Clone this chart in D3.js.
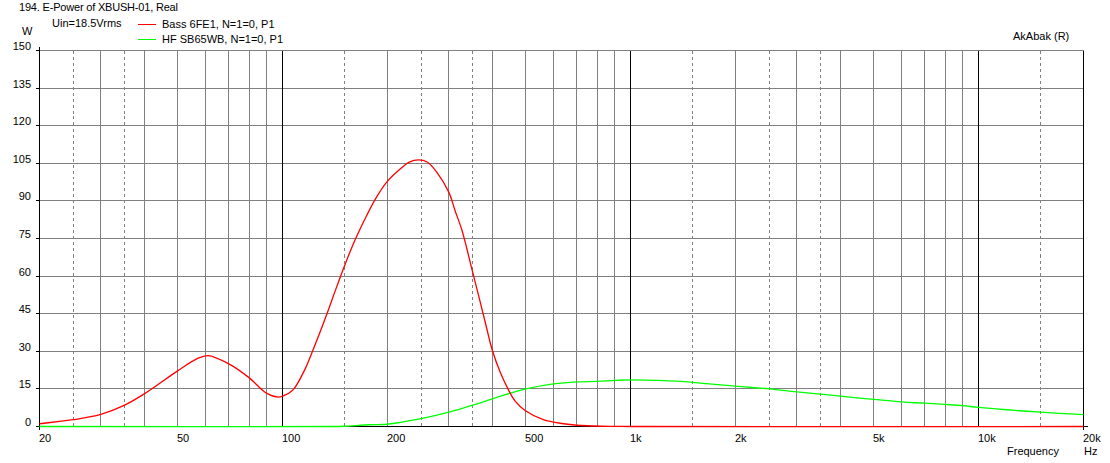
<!DOCTYPE html>
<html>
<head>
<meta charset="utf-8">
<script src="https://cdn.jsdelivr.net/npm/d3@7"></script>
<style>
  html, body { margin: 0; padding: 0; background: #fff; }
  svg { display: block; }
  text { font-family: "Liberation Sans", Arial, sans-serif; font-size: 11px; fill: #000; }
</style>
</head>
<body>
<script>
// ---- Data ----
const bassFreq = [20, 25, 30, 35, 40, 50, 56.6, 61, 70, 80, 90, 97, 100, 107, 116, 122, 134, 141, 149, 156, 163, 174, 186, 199, 215, 231, 246, 260, 277, 300, 313, 327, 338, 350, 365, 382, 400, 422, 446, 466, 497, 561, 641, 700, 826, 1000, 20000];
const bassW    = [1.1, 2.7, 4.8, 8.4, 13, 22.3, 27, 28.3, 25, 19.5, 13.2, 11.7, 12.1, 14.6, 23, 30.3, 45, 53.5, 62.5, 69.6, 75.8, 84, 91.5, 97.5, 102.1, 105.5, 106.4, 105.5, 101.5, 93.5, 86, 78.5, 71, 62.5, 52.5, 41.5, 30.5, 21.5, 14.4, 10, 6.4, 2.7, 1.1, 0.5, 0.1, 0, 0];

const hfFreq = [20, 140, 150, 178, 200, 214, 250, 300, 350, 400, 451, 500, 600, 700, 800, 900, 1000, 1400, 1500, 2000, 2500, 3000, 3500, 4000, 5000, 6000, 7000, 8000, 9000, 10000, 15000, 20000];
const hfW    = [0, 0, 0.1, 0.7, 0.9, 1.5, 3.1, 5.7, 8.4, 11, 13.3, 15, 17, 17.8, 18, 18.4, 18.6, 18.0, 17.6, 16.1, 15.0, 13.8, 12.9, 12.1, 10.8, 9.8, 9.3, 8.8, 8.3, 7.6, 5.7, 4.7];

const yTicks = [0, 15, 30, 45, 60, 75, 90, 105, 120, 135, 150];
const xTickValues = [20, 50, 100, 200, 500, 1000, 2000, 5000, 10000, 20000];
const xTickLabels = ["20", "50", "100", "200", "500", "1k", "2k", "5k", "10k", "20k"];
const gridSolid  = [30, 40, 50, 60, 70, 80, 90, 200, 300, 400, 500, 600, 700, 800, 900, 2000, 3000, 4000, 5000, 6000, 7000, 8000, 9000];
const gridDashed = [25, 35, 150, 250, 350, 1500, 2500, 3500, 15000];
const gridMajor  = [100, 1000, 10000];

const title = "194. E-Power of XBUSH-01, Real";
const seriesNames = ["Bass 6FE1, N=1=0, P1", "HF SB65WB, N=1=0, P1"];
const seriesColors = ["#ff0000", "#00ff00"];

// ---- Chart ----
const W = 1110, H = 463;
const svg = d3.select("body").append("svg").attr("width", W).attr("height", H);

const x = d3.scaleLog().domain([20, 20000]).range([39.5, 1083.5]);
const y = d3.scaleLinear().domain([0, 150]).range([426.5, 50.5]);
const px = v => Math.floor(x(v)) + 0.5;
const py = v => Math.floor(y(v)) + 0.5;

const grid = svg.append("g").attr("shape-rendering", "crispEdges");

grid.selectAll("line.h").data(yTicks.filter(d => d > 0)).join("line")
  .attr("x1", px(20)).attr("x2", px(20000))
  .attr("y1", d => py(d)).attr("y2", d => py(d))
  .attr("stroke", "#808080");

grid.selectAll("line.vs").data(gridSolid).join("line")
  .attr("x1", d => px(d)).attr("x2", d => px(d))
  .attr("y1", py(150)).attr("y2", py(0))
  .attr("stroke", "#808080");
grid.selectAll("line.vd").data(gridDashed).join("line")
  .attr("x1", d => px(d)).attr("x2", d => px(d))
  .attr("y1", py(150)).attr("y2", py(0))
  .attr("stroke", "#808080").attr("stroke-dasharray", "3,3");
grid.selectAll("line.vm").data(gridMajor).join("line")
  .attr("x1", d => px(d)).attr("x2", d => px(d))
  .attr("y1", py(150)).attr("y2", py(0))
  .attr("stroke", "#000");

const ax = svg.append("g").attr("shape-rendering", "crispEdges").attr("stroke", "#000");
ax.append("line").attr("x1", px(20)).attr("x2", px(20)).attr("y1", py(150) - 4).attr("y2", py(0) + 3);
ax.append("line").attr("x1", px(20000)).attr("x2", px(20000)).attr("y1", py(150)).attr("y2", py(0) + 3);
ax.append("line").attr("x1", px(20)).attr("x2", px(20000) + 4).attr("y1", py(0)).attr("y2", py(0));
ax.selectAll("line.yt").data(yTicks).join("line")
  .attr("x1", px(20) - 4).attr("x2", px(20)).attr("y1", d => py(d)).attr("y2", d => py(d));

svg.append("g").selectAll("text").data(yTicks).join("text")
  .attr("x", 31).attr("y", d => py(d) - 0.5)
  .attr("text-anchor", "end").text(d => d);

svg.append("g").selectAll("text").data(xTickValues).join("text")
  .attr("x", d => Math.floor(x(d))).attr("y", 441.5)
  .text((d, i) => xTickLabels[i]);

const line = d3.line().x(d => x(d[0])).y(d => y(d[1])).curve(d3.curveCatmullRom.alpha(0.5));
svg.append("path").datum(hfFreq.map((f, i) => [f, hfW[i]]))
  .attr("d", line).attr("fill", "none").attr("stroke", seriesColors[1]).attr("stroke-width", 1.3);
svg.append("path").datum(bassFreq.map((f, i) => [f, bassW[i]]))
  .attr("d", line).attr("fill", "none").attr("stroke", seriesColors[0]).attr("stroke-width", 1.3);

svg.append("text").attr("x", 19).attr("y", 11).attr("textLength", 159).text(title);
svg.append("text").attr("x", 22).attr("y", 35).text("W");
svg.append("text").attr("x", 52).attr("y", 27).text("Uin=18.5Vrms");
const leg = svg.append("g");
seriesNames.forEach((n, i) => {
  const yy = 24 + i * 15;
  leg.append("line").attr("x1", 138).attr("x2", 156).attr("y1", yy + 0.5).attr("y2", yy + 0.5)
    .attr("stroke", seriesColors[i]).attr("shape-rendering", "crispEdges");
  leg.append("text").attr("x", 162).attr("y", yy + 3.5).text(n);
});
svg.append("text").attr("x", 1013).attr("y", 40).text("AkAbak (R)");
svg.append("text").attr("x", 1007).attr("y", 455).text("Frequency");
svg.append("text").attr("x", 1084).attr("y", 455).text("Hz");
</script>
</body>
</html>
